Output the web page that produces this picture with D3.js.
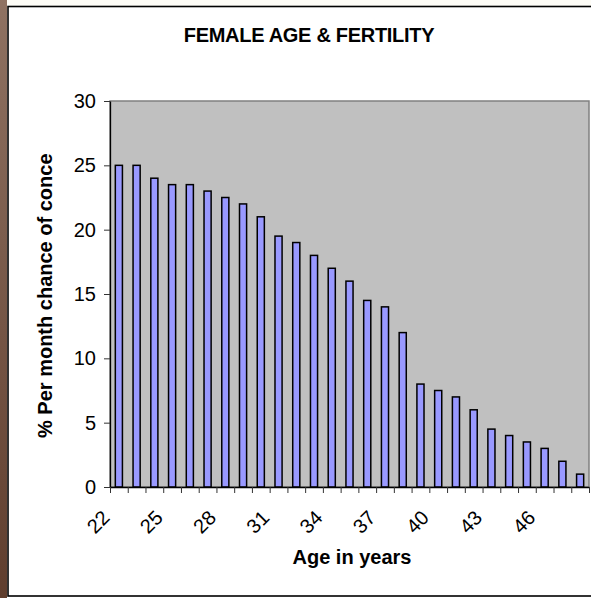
<!DOCTYPE html>
<html>
<head>
<meta charset="utf-8">
<script src="https://cdn.jsdelivr.net/npm/d3@7"></script>
<style>
  body { margin: 0; background: #fff; }
  text { font-family: "Liberation Sans", Arial, sans-serif; }
</style>
</head>
<body>
<script>
// chart data
var ages = [22, 23, 24, 25, 26, 27, 28, 29, 30, 31, 32, 33, 34, 35, 36, 37, 38, 39, 40, 41, 42, 43, 44, 45, 46, 47, 48];
var chance = [25, 25, 24, 23.5, 23.5, 23, 22.5, 22, 21, 19.5, 19, 18, 17, 16, 14.5, 14, 12, 8, 7.5, 7, 6, 4.5, 4, 3.5, 3, 2, 1];
var ageLabels = [22, 25, 28, 31, 34, 37, 40, 43, 46];
var yTicks = [0, 5, 10, 15, 20, 25, 30];

var W = 591, H = 598;
var plot = {left: 110, right: 589, top: 101, bottom: 487};

var svg = d3.select("body").append("svg")
    .attr("width", W)
    .attr("height", H);

// brown page strip on the left
var grad = svg.append("defs").append("linearGradient")
    .attr("id", "strip")
    .attr("x1", 0).attr("y1", 0).attr("x2", 0).attr("y2", 1);
grad.append("stop").attr("offset", "0%").attr("stop-color", "#8f7262");
grad.append("stop").attr("offset", "100%").attr("stop-color", "#603e2e");

svg.append("rect")
    .attr("x", 0).attr("y", 0)
    .attr("width", 7).attr("height", H)
    .attr("fill", "url(#strip)");

svg.append("rect")
    .attr("x", 7).attr("y", 0)
    .attr("width", W).attr("height", 6)
    .attr("fill", "#fdfcf6");

// chart frame
svg.append("rect")
    .attr("x", 8).attr("y", 6.5)
    .attr("width", W + 20).attr("height", 589.5)
    .attr("fill", "#fff")
    .attr("stroke", "#000")
    .attr("stroke-width", 1.6);

// scales
var x = d3.scaleBand()
    .domain(ages)
    .range([plot.left, plot.right])
    .paddingInner(0.6)
    .paddingOuter(0.3);

var xEdge = d3.scaleLinear()
    .domain([0, ages.length])
    .range([plot.left, plot.right]);

var y = d3.scaleLinear()
    .domain([0, 30])
    .range([plot.bottom, plot.top]);

// plot area
svg.append("rect")
    .attr("x", plot.left).attr("y", plot.top)
    .attr("width", plot.right - plot.left)
    .attr("height", plot.bottom - plot.top)
    .attr("fill", "#c0c0c0")
    .attr("stroke", "#808080")
    .attr("stroke-width", 1.5);

// bars
svg.append("g")
  .selectAll("rect")
  .data(ages)
  .enter().append("rect")
    .attr("x", function(d) { return x(d); })
    .attr("y", function(d, i) { return y(chance[i]); })
    .attr("width", x.bandwidth())
    .attr("height", function(d, i) { return y(0) - y(chance[i]); })
    .attr("fill", "#9999ff")
    .attr("stroke", "#000")
    .attr("stroke-width", 1.5);

// y axis
var yAxis = svg.append("g")
    .attr("transform", "translate(" + plot.left + ",0)")
    .call(d3.axisLeft(y).tickValues(yTicks).tickSize(6).tickPadding(8).tickSizeOuter(0));
yAxis.select(".domain").attr("stroke", "#000").attr("stroke-width", 1.3);
yAxis.selectAll(".tick line").attr("stroke", "#333");
yAxis.selectAll("text")
    .attr("font-family", "Liberation Sans, Arial, sans-serif")
    .attr("font-size", 20)
    .attr("fill", "#000");

// x axis, ticks between categories
var xAxis = svg.append("g")
    .attr("transform", "translate(0," + plot.bottom + ")")
    .call(d3.axisBottom(xEdge).tickValues(d3.range(ages.length + 1)).tickSize(6).tickFormat("").tickSizeOuter(0));
xAxis.select(".domain").attr("stroke", "#000").attr("stroke-width", 1.3);
xAxis.selectAll(".tick line").attr("stroke", "#333");

// rotated age labels
svg.append("g")
  .selectAll("text")
  .data(ageLabels)
  .enter().append("text")
    .attr("transform", function(d) {
      return "translate(" + (x(d) + x.bandwidth() / 2 - 8) + ",519) rotate(-45)";
    })
    .attr("text-anchor", "end")
    .attr("font-size", 20)
    .text(function(d) { return d; });

// titles
svg.append("text")
    .attr("x", 309).attr("y", 42)
    .attr("text-anchor", "middle")
    .attr("font-size", 20)
    .attr("font-weight", "bold")
    .attr("letter-spacing", -0.3)
    .text("FEMALE AGE & FERTILITY");

svg.append("text")
    .attr("x", 352).attr("y", 564)
    .attr("text-anchor", "middle")
    .attr("font-size", 20)
    .attr("font-weight", "bold")
    .text("Age in years");

svg.append("text")
    .attr("transform", "translate(52,438) rotate(-90)")
    .attr("text-anchor", "start")
    .attr("font-size", 20)
    .attr("font-weight", "bold")
    .text("% Per month chance of conce");
</script>
</body>
</html>
